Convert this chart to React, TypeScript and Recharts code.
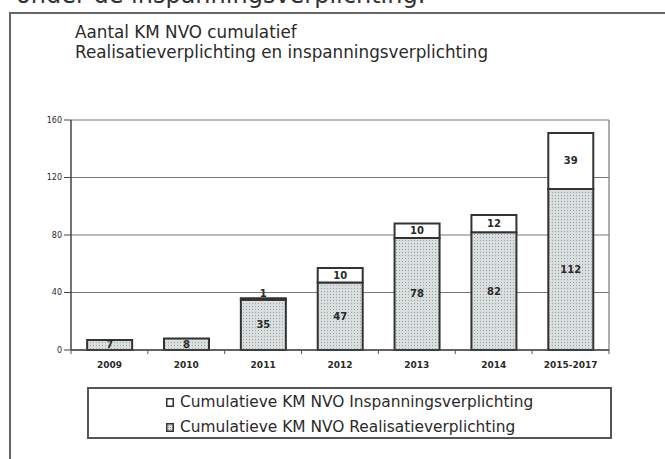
import { BarChart, Bar, XAxis, YAxis, CartesianGrid, LabelList } from 'recharts';

const years = ['2009', '2010', '2011', '2012', '2013', '2014', '2015-2017'];
const realisatie = [7, 8, 35, 47, 78, 82, 112];
const inspanning = [0, 0, 1, 10, 10, 12, 39];
const yTicks = [0, 40, 80, 120, 160];

const data = years.map((year, i) => ({
  year,
  realisatie: realisatie[i],
  inspanning: inspanning[i],
}));

const FONT = '"DejaVu Sans", Verdana, sans-serif';
const INK = '#2a2a2a';

const SegmentLabel = (props: any) => {
  const { x, y, width, height, value } = props;
  if (!value) return null;
  // very thin segments get their number just above the bar
  const small = height < 5;
  const cy = small ? y - 5 : y + height / 2;
  return (
    <text
      x={x + width / 2}
      y={cy}
      textAnchor="middle"
      dominantBaseline="central"
      fontFamily={FONT}
      fontSize={10}
      fontWeight="bold"
      fill={INK}
    >
      {value}
    </text>
  );
};

const YearTick = (props: any) => {
  const { x, y, payload, index } = props;
  const half = 38.4;
  return (
    <g>
      <line x1={x + half} y1={y - 8} x2={x + half} y2={y - 4} stroke="#555" />
      {index === 0 && <line x1={x - half} y1={y - 8} x2={x - half} y2={y - 4} stroke="#555" />}
      <text x={x} y={y + 10} textAnchor="middle" fontFamily={FONT} fontSize={9} fontWeight="bold" fill={INK}>
        {payload.value}
      </text>
    </g>
  );
};

const LegendSwatch = ({ dotted }: { dotted: boolean }) => (
  <svg width={8} height={9} style={{ marginRight: 6 }}>
    <rect x={0.75} y={0.75} width={6.5} height={7.5} fill={dotted ? 'url(#dotsLegend)' : '#fff'} stroke="#333" strokeWidth={1.5} />
  </svg>
);

export default function App() {
  return (
    <div style={{ position: 'absolute', left: 0, top: 0, width: 665, height: 459, overflow: 'hidden', background: '#fff' }}>
      <svg width={0} height={0} style={{ position: 'absolute' }}>
        <defs>
          <pattern id="dotsLegend" width={2} height={2} patternUnits="userSpaceOnUse">
            <rect width={2} height={2} fill="#dfe3e3" />
            <rect width={1} height={1} fill="#9aa2a2" />
          </pattern>
        </defs>
      </svg>
      <div
        style={{
          position: 'absolute', left: 16, top: -17, fontFamily: FONT, fontSize: 24, lineHeight: '24px',
          color: '#333', whiteSpace: 'nowrap',
        }}
      >
        onder de inspanningsverplichting.
      </div>
      <div style={{ position: 'absolute', left: 9, top: 12, width: 680, height: 460, borderLeft: '2px solid #666', borderTop: '2px solid #666' }} />
      <div style={{ position: 'absolute', left: 75, top: 22, fontFamily: FONT, fontSize: 16.8, lineHeight: '20px', color: INK }}>
        <div>Aantal KM NVO cumulatief</div>
        <div>Realisatieverplichting en inspanningsverplichting</div>
      </div>
      <div style={{ position: 'absolute', left: 0, top: 0 }}>
        <BarChart width={665} height={459} data={data} margin={{ top: 120, right: 56, bottom: 79, left: 0 }} barCategoryGap="21%">
          <defs>
            <pattern id="dots" width={3} height={3} patternUnits="userSpaceOnUse">
              <rect width={3} height={3} fill="#d9dede" />
              <rect width={1} height={1} fill="#9ba3a3" />
            </pattern>
          </defs>
          <CartesianGrid
            stroke="#777"
            strokeWidth={1.2}
            vertical
            verticalCoordinatesGenerator={({ offset }: any) => [offset.left + offset.width]}
          />
          <XAxis dataKey="year" height={30} tickLine={false} axisLine={{ stroke: '#444', strokeWidth: 1.5 }} tick={<YearTick />} interval={0} />
          <YAxis
            width={71}
            domain={[0, 160]}
            ticks={yTicks}
            tickSize={7}
            tickLine={{ stroke: '#444' }}
            axisLine={{ stroke: '#444', strokeWidth: 1.5 }}
            tick={{ fontFamily: FONT, fontSize: 8, fill: INK }}
          />
          <Bar dataKey="realisatie" stackId="a" fill="url(#dots)" stroke="#333" strokeWidth={2} isAnimationActive={false}>
            <LabelList dataKey="realisatie" content={<SegmentLabel />} />
          </Bar>
          <Bar dataKey="inspanning" stackId="a" fill="#fff" stroke="#333" strokeWidth={2} isAnimationActive={false}>
            <LabelList dataKey="inspanning" content={<SegmentLabel />} />
          </Bar>
        </BarChart>
      </div>
      <div
        style={{
          position: 'absolute', left: 87, top: 387, width: 521, height: 48, border: '2px solid #555',
          fontFamily: FONT, fontSize: 15.4, color: INK,
        }}
      >
        <div style={{ position: 'absolute', left: 77, top: 4, display: 'flex', alignItems: 'center', whiteSpace: 'nowrap' }}>
          <LegendSwatch dotted={false} />
          Cumulatieve KM NVO Inspanningsverplichting
        </div>
        <div style={{ position: 'absolute', left: 77, top: 29, display: 'flex', alignItems: 'center', whiteSpace: 'nowrap' }}>
          <LegendSwatch dotted />
          Cumulatieve KM NVO Realisatieverplichting
        </div>
      </div>
    </div>
  );
}
